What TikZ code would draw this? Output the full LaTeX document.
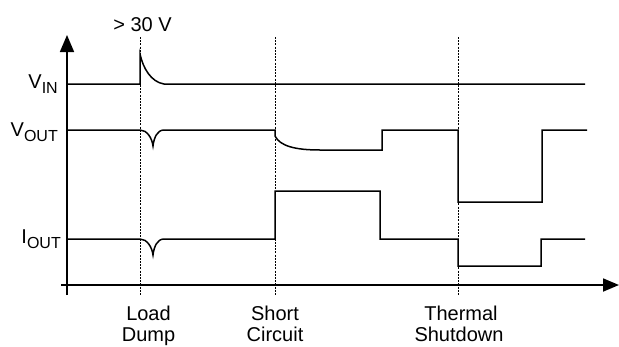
\documentclass[tikz,border=0pt]{standalone}
\usepackage{fontspec}
\setmainfont{Liberation Sans}
\usetikzlibrary{arrows.meta}
\begin{document}
\begin{tikzpicture}[x=1pt,y=-1pt,
  sig/.style={line width=1.5pt,line join=miter,line cap=butt},
  axis/.style={line width=1.8pt},
  guide/.style={line width=0.8pt,dash pattern=on 2pt off 1.2pt},
  lbl/.style={inner sep=0pt,font=\fontsize{20}{20.7}\selectfont},
  sub/.style={}]
\useasboundingbox (0,0) rectangle (619,346);
\newcommand{\subtx}[1]{\raisebox{-5pt}{\fontsize{16}{16}\selectfont #1}}
% guides
\draw[guide] (140,37) -- (140,295);
\draw[guide] (275,37) -- (275,295);
\draw[guide] (458,37) -- (458,295);
% axes
\draw[axis,-{Triangle[length=17pt,width=14pt]}] (67,295) -- (67,35);
\draw[axis,-{Triangle[length=16pt,width=13pt]}] (61,285) -- (619,285);
% VIN
\draw[sig] (67,84) -- (140,84) -- (140,54)
  .. controls (143,68) and (151,82) .. (164,84) -- (585,84);
% VOUT
\draw[sig] (67,130) -- (140,130)
  .. controls (147,130) and (152,138) .. (153,146)
  .. controls (154,138) and (157,130) .. (164,130)
  -- (275,130) -- (275,136)
  .. controls (280,146) and (295,150) .. (320,150)
  -- (382,150) -- (382,130) -- (458,130) -- (458,202)
  -- (542,202) -- (542,130) -- (587,130);
% IOUT
\draw[sig] (67,239) -- (140,239)
  .. controls (147,239) and (152,247) .. (153,255)
  .. controls (154,247) and (157,239) .. (164,239)
  -- (275,239) -- (275,191) -- (380,191) -- (380,239)
  -- (458,239) -- (458,266) -- (541,266) -- (541,239) -- (585,239);
% labels
\node[lbl,anchor=base east] (vin) at (58,88) {V\subtx{IN}};
\node[lbl,anchor=base east] (vout) at (58,136) {V\subtx{OUT}};
\node[lbl,anchor=base east] (iout) at (61,243) {I\subtx{OUT}};
\node[lbl,anchor=base] (v30) at (142.5,31) {> 30 V};
\node[lbl,anchor=base] (ld1) at (148.5,320.5) {Load};
\node[lbl,anchor=base] (ld2) at (148.5,341) {Dump};
\node[lbl,anchor=base] (sc1) at (275,320.5) {Short};
\node[lbl,anchor=base] (sc2) at (275,341) {Circuit};
\node[lbl,anchor=base] (ts1) at (461,320.5) {Thermal};
\node[lbl,anchor=base] (ts2) at (459,341) {Shutdown};
\end{tikzpicture}
\end{document}
